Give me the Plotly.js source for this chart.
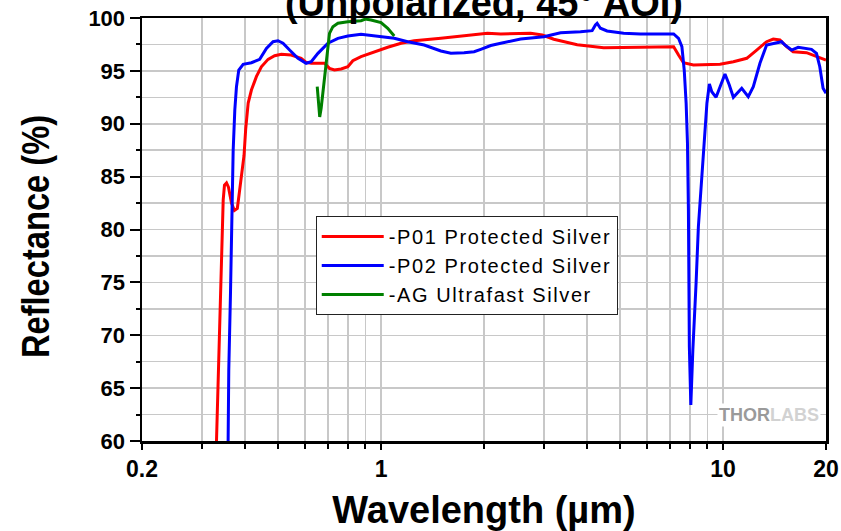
<!DOCTYPE html>
<html>
<head>
<meta charset="utf-8">
<script src="https://cdn.plot.ly/plotly-3.0.1.min.js"></script>
<style>
html,body{margin:0;padding:0;background:#fff;}
#chart{width:841px;height:531px;}
.legendtext{letter-spacing:1.6px;}
</style>
</head>
<body>
<div id="chart"></div>
<script>
// ---- data ----
const p01Wavelength = [0.327, 0.330, 0.334, 0.337, 0.3396, 0.3431, 0.3455, 0.3485, 0.3533, 0.358, 0.3654, 0.3726, 0.380, 0.3852, 0.3907, 0.3975, 0.402, 0.4088, 0.4178, 0.432, 0.4467, 0.4673, 0.4885, 0.511, 0.546, 0.584, 0.604, 0.625, 0.6834, 0.7067, 0.7306, 0.7643, 0.7997, 0.827, 0.874, 0.956, 1.046, 1.144, 1.250, 1.496, 1.711, 2.047, 2.239, 2.737, 2.96, 3.20, 3.746, 4.478, 5.73, 7.17, 7.41, 7.66, 8.19, 9.80, 10.72, 11.73, 12.54, 13.41, 14.02, 14.66, 15.34, 16.03, 17.54, 18.76, 20.0];
const p01Reflectance = [55, 60, 66.9, 71.4, 75.9, 79.0, 82.8, 84.2, 84.4, 84.0, 82.5, 81.8, 82.0, 83.5, 85.0, 87.0, 89.5, 91.96, 93.19, 94.45, 95.39, 96.09, 96.43, 96.57, 96.5, 96.19, 95.81, 95.72, 95.72, 95.24, 95.08, 95.18, 95.39, 95.96, 96.34, 96.81, 97.23, 97.61, 97.85, 98.08, 98.3, 98.55, 98.49, 98.55, 98.39, 97.99, 97.48, 97.19, 97.23, 97.29, 96.5, 95.77, 95.56, 95.62, 95.87, 96.19, 96.97, 97.76, 98.01, 97.92, 97.29, 96.81, 96.72, 96.34, 96.03];

const p02Wavelength = [0.356, 0.357, 0.3587, 0.3629, 0.3654, 0.3670, 0.3695, 0.3736, 0.3778, 0.3837, 0.3952, 0.4178, 0.4417, 0.4622, 0.4833, 0.4997, 0.5168, 0.5402, 0.5716, 0.604, 0.625, 0.6538, 0.6994, 0.748, 0.7997, 0.874, 0.956, 1.093, 1.196, 1.337, 1.496, 1.600, 1.749, 1.871, 1.957, 2.093, 2.239, 2.56, 2.993, 3.349, 3.83, 4.142, 4.235, 4.283, 4.38, 4.58, 5.121, 5.73, 6.55, 7.17, 7.41, 7.58, 7.70, 7.80, 7.87, 7.92, 7.97, 8.01, 8.05, 8.16, 8.23, 8.34, 8.47, 8.61, 8.76, 8.97, 9.12, 9.27, 9.54, 9.80, 10.13, 10.43, 10.72, 11.34, 11.85, 12.26, 12.82, 13.41, 14.02, 14.83, 15.16, 15.86, 16.58, 18.14, 18.76, 19.18, 19.61, 20.0];
const p02Reflectance = [55, 60, 66.71, 74.0, 79.29, 84.4, 87.5, 91.3, 93.5, 95.08, 95.62, 95.77, 96.09, 97.13, 97.76, 97.85, 97.61, 96.97, 96.19, 95.72, 95.87, 96.66, 97.61, 98.08, 98.30, 98.46, 98.33, 98.08, 97.76, 97.45, 96.88, 96.66, 96.72, 96.81, 97.04, 97.4, 97.61, 98.01, 98.23, 98.61, 98.70, 98.80, 99.34, 99.50, 99.03, 98.77, 98.55, 98.49, 98.49, 98.49, 98.08, 97.29, 95.08, 91.93, 88.15, 81.84, 68.92, 65.48, 63.40, 68.61, 71.75, 74.94, 80.26, 83.45, 86.57, 91.93, 93.76, 93.03, 92.50, 93.50, 94.70, 93.66, 92.50, 93.35, 92.56, 93.50, 95.72, 97.45, 97.61, 97.76, 97.45, 96.97, 97.23, 97.04, 96.66, 95.39, 93.35, 92.88];

const agWavelength = [0.6507, 0.6551, 0.6617, 0.6683, 0.676, 0.6834, 0.6913, 0.6994, 0.7067, 0.7231, 0.748, 0.7997, 0.874, 0.90, 0.935, 1.0, 1.046, 1.093];
const agReflectance = [93.5, 92.53, 90.64, 91.49, 92.88, 94.45, 96.03, 97.61, 98.55, 99.18, 99.50, 99.65, 99.74, 99.9, 99.81, 99.56, 99.03, 98.30];

const seriesNames = ['-P01 Protected Silver', '-P02 Protected Silver', '-AG Ultrafast Silver'];
const xTickVals = [0.2, 1, 10, 20];
const xTickText = ['0.2', '1', '10', '20'];
const xMinorVals = [0.3, 0.4, 0.5, 0.6, 0.7, 0.8, 0.9, 2, 3, 4, 5, 6, 7, 8, 9];
const yTickVals = [60, 65, 70, 75, 80, 85, 90, 95, 100];

const F = 'Liberation Sans, Arial, sans-serif';
const grid = '#c8c8c8';

const traces = [
  {x: p01Wavelength, y: p01Reflectance, name: seriesNames[0], line: {color: '#ff0000', width: 3}},
  {x: p02Wavelength, y: p02Reflectance, name: seriesNames[1], line: {color: '#0000ff', width: 3}},
  {x: agWavelength, y: agReflectance, name: seriesNames[2], line: {color: '#008000', width: 3}}
].map(t => Object.assign({type: 'scatter', mode: 'lines', hoverinfo: 'skip'}, t));

const layout = {
  width: 841, height: 531,
  margin: {l: 142, r: 15, t: 18, b: 90},
  paper_bgcolor: 'white', plot_bgcolor: 'white',
  title: {text: '(Unpolarized, 45° AOI)', font: {family: F, size: 38, color: 'black', weight: 'bold'},
          x: 0.5, xref: 'paper', xanchor: 'center', y: 1 - 15.5 / 531, yref: 'container', yanchor: 'bottom'},
  xaxis: {
    type: 'log', range: [Math.log10(0.2), Math.log10(20)],
    tickmode: 'array', tickvals: xTickVals, ticktext: xTickText,
    ticks: 'outside', ticklen: 6, tickwidth: 2, tickcolor: 'black',
    showline: true, linewidth: 2.5, linecolor: 'black', mirror: true,
    showgrid: true, gridcolor: grid, gridwidth: 1.5, zeroline: false,
    tickfont: {family: F, size: 23, color: 'black', weight: 'bold'},
    minor: {tickmode: 'array', tickvals: xMinorVals, ticks: 'outside', ticklen: 5, tickwidth: 2, tickcolor: 'black',
            showgrid: true, gridcolor: grid, gridwidth: 1.5},
    title: {text: 'Wavelength (µm)', font: {family: F, size: 38, color: 'black', weight: 'bold'}}
  },
  yaxis: {
    range: [60, 100], tickmode: 'array', tickvals: yTickVals,
    ticks: 'outside', ticklen: 10, tickwidth: 2, tickcolor: 'black', ticklabelstandoff: 0,
    showline: true, linewidth: 2.5, linecolor: 'black', mirror: true,
    showgrid: true, gridcolor: grid, gridwidth: 1.5, zeroline: false,
    tickfont: {family: F, size: 22, color: 'black', weight: 'bold'},
    minor: {dtick: 2.5, tick0: 60, ticks: 'outside', ticklen: 4, tickwidth: 2, tickcolor: 'black',
            showgrid: true, gridcolor: grid, gridwidth: 1.5},
    title: {text: 'Reflectance (%)', font: {family: F, size: 38, color: 'black', weight: 'bold'}}
  },
  showlegend: true,
  legend: {x: 0.254, y: 0.532, xanchor: 'left', yanchor: 'top', bgcolor: 'white', bordercolor: '#222', borderwidth: 1,
           font: {family: F, size: 20, color: 'black'}, itemwidth: 62},
  annotations: [{
    text: '<b><span style="color:#9a9a9a">THOR</span><span style="color:#d2d2d2">LABS</span></b>',
    xref: 'paper', yref: 'paper', x: 0.9167, y: 0.0626, xanchor: 'center', yanchor: 'middle',
    showarrow: false, bgcolor: 'white', font: {family: F, size: 18}
  }]
};

Plotly.newPlot('chart', traces, layout, {staticPlot: true, displayModeBar: false}).then(gd => {
  // the reference draws the y title in a narrower face: compress it along its length
  const t = gd.querySelector('.ytitle');
  if (t) {
    const x = parseFloat(t.getAttribute('x')), y = parseFloat(t.getAttribute('y'));
    const tr = t.getAttribute('transform') || '';
    t.setAttribute('transform', tr + ` translate(${x - 7},${y - 5}) scale(0.86,1) translate(${-x},${-y})`);
  }
});
</script>
</body>
</html>
